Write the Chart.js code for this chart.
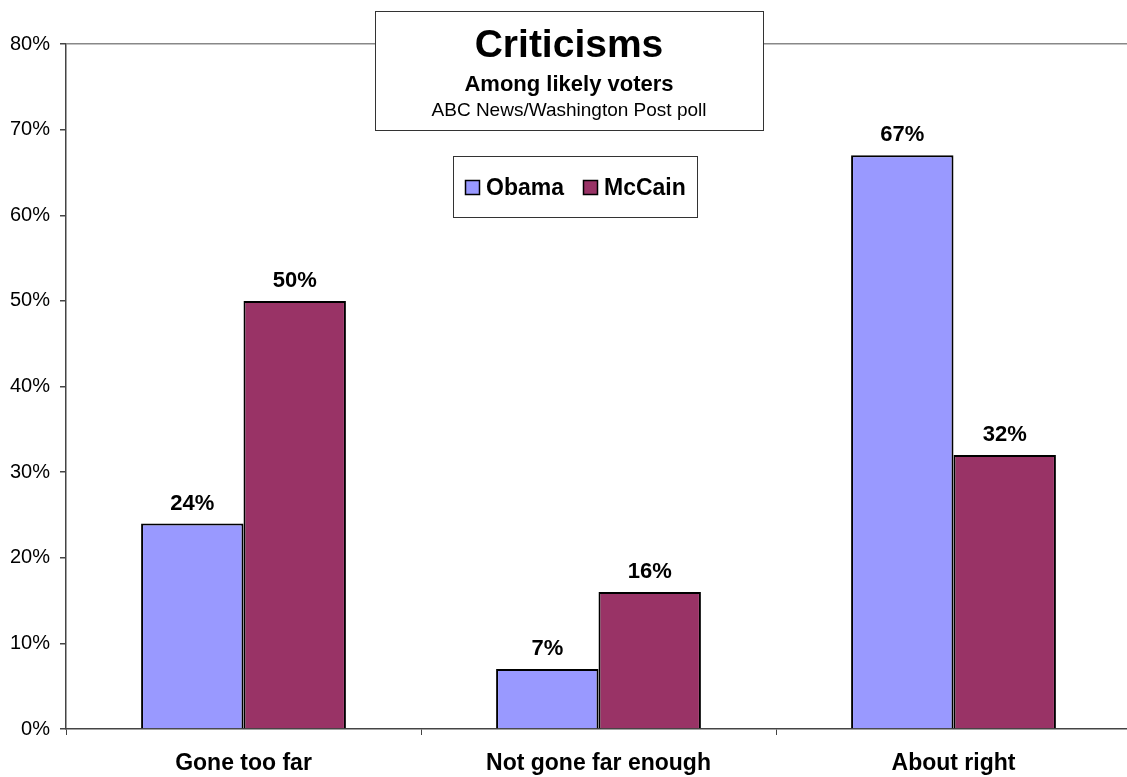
<!DOCTYPE html>
<html>
<head>
<meta charset="utf-8">
<script src="https://cdn.jsdelivr.net/npm/chart.js@4/dist/chart.umd.min.js"></script>
<style>
  html, body { margin: 0; padding: 0; background: #fff; overflow: hidden; }
  #wrap { width: 1131px; height: 777px; }
</style>
</head>
<body>
<div id="wrap"><canvas id="chart" width="1131" height="777"></canvas></div>
<script>
const categories = ['Gone too far', 'Not gone far enough', 'About right'];
const obamaValues = [24, 7, 67];
const mccainValues = [50, 16, 32];
const yTicks = [0, 10, 20, 30, 40, 50, 60, 70, 80];

const FONT = '"Liberation Sans", Arial, sans-serif';

// Etiquettes au-dessus des barres + encadrés titre/légende
const overlayPlugin = {
    id: 'overlay',
    afterDatasetsDraw(chart) {
        const ctx = chart.ctx;
        ctx.save();
        ctx.fillStyle = '#000';
        ctx.font = 'bold 22px ' + FONT;
        ctx.textAlign = 'center';
        ctx.textBaseline = 'alphabetic';
        chart.data.datasets.forEach((ds, i) => {
            chart.getDatasetMeta(i).data.forEach((bar, j) => {
                ctx.fillText(ds.data[j] + '%', bar.x, bar.y - 14);
            });
        });

        // Encadré du titre
        ctx.fillStyle = '#fff';
        ctx.fillRect(375, 11, 388, 119);
        ctx.strokeStyle = '#333';
        ctx.lineWidth = 1;
        ctx.strokeRect(375.5, 11.5, 388, 119);
        ctx.fillStyle = '#000';
        ctx.font = 'bold 39px ' + FONT;
        ctx.fillText('Criticisms', 569, 57);
        ctx.font = 'bold 22px ' + FONT;
        ctx.fillText('Among likely voters', 569, 91);
        ctx.font = '19px ' + FONT;
        ctx.fillText('ABC News/Washington Post poll', 569, 116);

        // Encadré de la légende
        ctx.fillStyle = '#fff';
        ctx.fillRect(453, 156, 244, 61);
        ctx.strokeRect(453.5, 156.5, 244, 61);
        const items = [
            { label: 'Obama', color: '#9999FF', x: 465 },
            { label: 'McCain', color: '#993366', x: 583 }
        ];
        ctx.textAlign = 'left';
        ctx.font = 'bold 23px ' + FONT;
        items.forEach(it => {
            ctx.fillStyle = it.color;
            ctx.fillRect(it.x, 180, 15, 15);
            ctx.strokeStyle = '#000';
            ctx.lineWidth = 1.5;
            ctx.strokeRect(it.x + 0.5, 180.5, 14, 14);
            ctx.fillStyle = '#000';
            ctx.fillText(it.label, it.x + 21, 195);
        });
        ctx.restore();
    }
};

new Chart(document.getElementById('chart'), {
    type: 'bar',
    data: {
        labels: categories,
        datasets: [
            {
                label: 'Obama',
                data: obamaValues,
                backgroundColor: '#9999FF',
                borderColor: '#000',
                borderWidth: 2,
                categoryPercentage: 0.577,
                barPercentage: 1.0
            },
            {
                label: 'McCain',
                data: mccainValues,
                backgroundColor: '#993366',
                borderColor: '#000',
                borderWidth: 2,
                categoryPercentage: 0.577,
                barPercentage: 1.0
            }
        ]
    },
    options: {
        responsive: false,
        animation: false,
        events: [],
        layout: { padding: { top: 44, right: 0, bottom: 0, left: 0 } },
        plugins: {
            legend: { display: false },
            title: { display: false },
            tooltip: { enabled: false }
        },
        scales: {
            x: {
                offset: true,
                grid: {
                    offset: true,
                    drawOnChartArea: false,
                    tickLength: 6,
                    tickColor: '#444'
                },
                border: { color: '#444', width: 1.5 },
                ticks: {
                    color: '#000',
                    padding: 15,
                    font: { family: FONT, size: 23, weight: 'bold' },
                    maxRotation: 0
                },
                afterFit(scale) { scale.height = 48; }
            },
            y: {
                min: 0,
                max: 80,
                afterBuildTicks(scale) {
                    scale.ticks = yTicks.map(v => ({ value: v }));
                },
                grid: {
                    color: c => (c.tick && c.tick.value === 80) ? '#888' : 'rgba(0,0,0,0)',
                    lineWidth: 1.5,
                    tickLength: 6,
                    tickColor: '#444'
                },
                border: { color: '#444', width: 1.5 },
                ticks: {
                    color: '#000',
                    padding: 10,
                    font: { family: FONT, size: 20 },
                    callback: v => v + '%'
                },
                afterFit(scale) { scale.width = 66; }
            }
        }
    },
    plugins: [overlayPlugin]
});
</script>
</body>
</html>
